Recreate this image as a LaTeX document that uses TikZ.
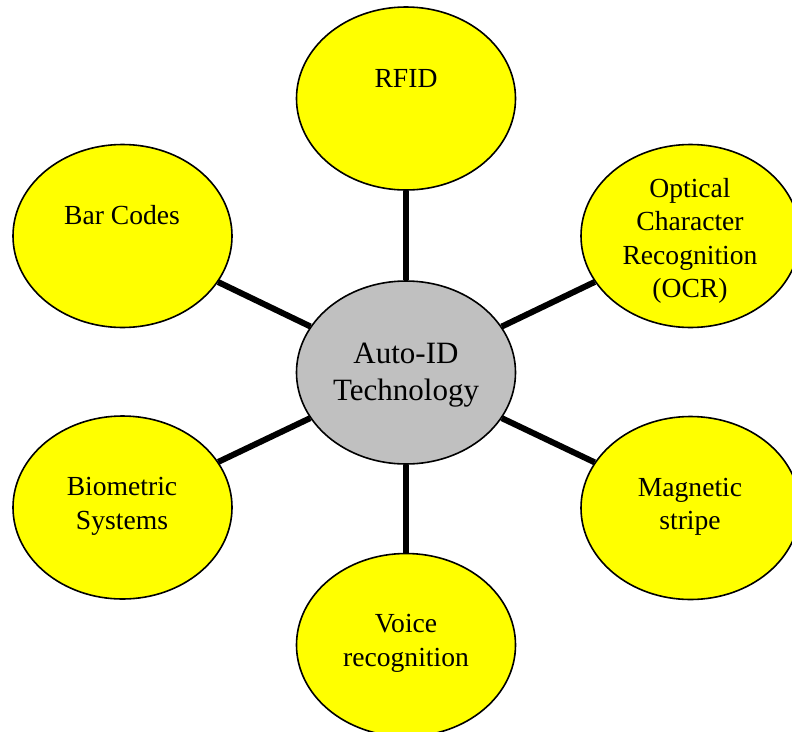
\documentclass[tikz,border=0pt]{standalone}
\usepackage{fontspec}
\setmainfont{Liberation Serif}
\usetikzlibrary{shapes.geometric,backgrounds}

\definecolor{bubble}{HTML}{FFFF00}
\definecolor{hub}{HTML}{C0C0C0}

\tikzset{
  bubblebase/.style={ellipse, draw=black, line width=1.6pt, inner sep=0pt,
                     minimum width=219pt, minimum height=183pt},
  leaf/.style={bubblebase, fill=bubble},
  core/.style={bubblebase, fill=hub},
  leaftext/.style={align=center, inner sep=0pt,
                   font=\fontsize{27.6}{33.5}\selectfont},
  coretext/.style={align=center, inner sep=0pt,
                   font=\fontsize{31}{37}\selectfont},
  spoke/.style={line width=6pt, black}
}

\begin{document}
\begin{tikzpicture}[x=1pt,y=-1pt]
  \useasboundingbox (0,0) rectangle (792,731);
  \clip (0,0) rectangle (792,731);

  % central hub and the six technologies around it
  \node[core] (hub)  at (406,372.5) {};
  \node[leaf] (rfid) at (406,98.5)  {};
  \node[leaf] (bar)  at (122.5,236) {};
  \node[leaf] (ocr)  at (690.5,236) {};
  \node[leaf] (bio)  at (122.5,507.5) {};
  \node[leaf] (mag)  at (690.5,508) {};
  \node[leaf] (voice) at (406,645) {};

  % labels, set towards the top of each bubble
  \node[coretext] (hub-t)   at (406,375)   {Auto-ID\\Technology};
  \node[leaftext] (rfid-t)  at (406,78)    {RFID};
  \node[leaftext] (bar-t)   at (122,215)   {Bar Codes};
  \node[leaftext] (ocr-t)   at (690,241)   {Optical\\Character\\Recognition\\(OCR)};
  \node[leaftext] (bio-t)   at (122,506.5) {Biometric\\Systems};
  \node[leaftext] (mag-t)   at (690,507)   {Magnetic\\stripe};
  \node[leaftext] (voice-t) at (406,643.5) {Voice\\recognition};

  % spokes
  \begin{scope}[on background layer]
    \foreach \t in {rfid,bar,ocr,bio,mag,voice}
      \draw[spoke] (hub) -- (\t);
  \end{scope}
\end{tikzpicture}
\end{document}
